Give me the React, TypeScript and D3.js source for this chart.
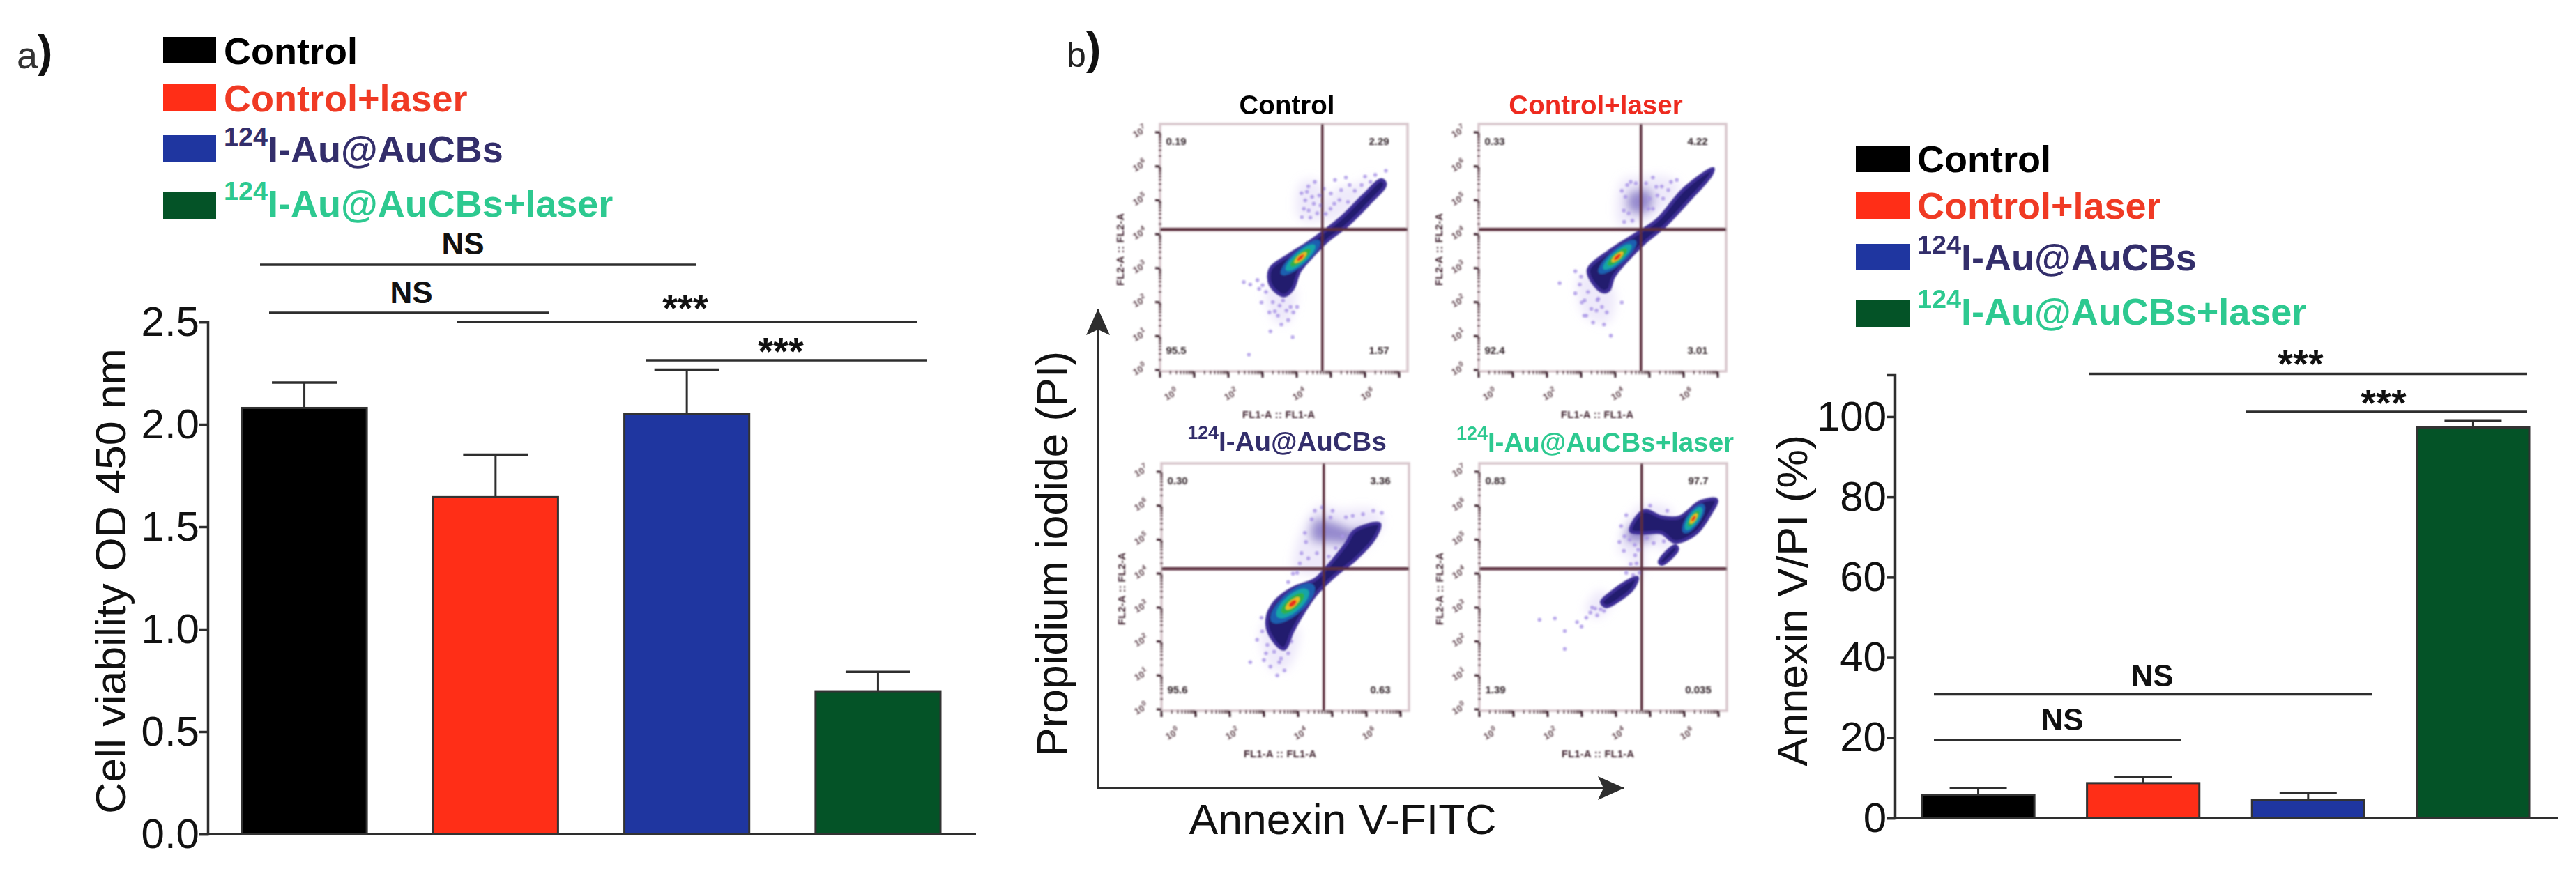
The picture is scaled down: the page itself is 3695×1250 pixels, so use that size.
import { useEffect, useRef } from "react";
import * as d3 from "d3";

type Pt = [number, number];

const groups = ["Control", "Control+laser", "124I-Au@AuCBs", "124I-Au@AuCBs+laser"];

// panel a
const viabilityMean = [2.08, 1.645, 2.05, 0.697];
const viabilityErr = [0.124, 0.207, 0.217, 0.095];
const viabilityTicks = [0, 0.5, 1, 1.5, 2, 2.5];

// panel b, right
const annexinMean = [5.8, 8.7, 4.6, 97.3];
const annexinErr = [1.7, 1.5, 1.6, 1.6];
const annexinTicks = [0, 20, 40, 60, 80, 100];

// flow plots, all positions in log10 decades
const quadrantPercents = [
  ["0.19", "2.29", "95.5", "1.57"],
  ["0.33", "4.22", "92.4", "3.01"],
  ["0.30", "3.36", "95.6", "0.63"],
  ["0.83", "97.7", "1.39", "0.035"],
];
const decadeTicks = [0, 1, 2, 3, 4, 5, 6, 7];
const xDecadeLabels = [0, 2, 4, 6];

const denseControl: Pt[][] = [
  [[3.62, 2.19], [3.23, 2.52], [3.23, 2.98], [3.75, 3.37], [4.27, 3.7], [4.73, 4.03], [5.31, 4.49], [5.96, 5.14], [6.48, 5.6], [6.59, 5.47], [6.09, 4.88], [5.44, 4.23], [4.92, 3.83], [4.53, 3.44], [4.08, 2.91], [3.88, 2.39]],
];
const denseLaser: Pt[][] = [
  [[3.61, 2.32], [3.26, 2.72], [3.22, 2.98], [3.93, 3.57], [4.65, 4.03], [5.23, 4.42], [6.02, 5.34], [6.86, 5.93], [6.8, 5.75], [6.15, 5.0], [5.45, 4.25], [4.85, 3.75], [4.4, 3.3], [3.95, 2.75], [3.8, 2.35]],
];
const denseAu: Pt[][] = [
  [[3.58, 1.78], [3.19, 2.18], [3.09, 2.64], [3.32, 3.16], [3.84, 3.56], [4.49, 3.82], [4.82, 4.15], [5.4, 4.87], [5.66, 5.26], [6.38, 5.46], [6.25, 5.07], [5.66, 4.41], [5.08, 3.95], [4.49, 3.36], [4.1, 2.77], [3.84, 2.31]],
];
const denseAuLaser: Pt[][] = [
  [[4.43, 5.26], [4.82, 5.85], [5.34, 5.66], [5.86, 5.66], [6.48, 6.12], [6.94, 6.17], [6.75, 5.75], [6.35, 5.2], [5.73, 4.93], [5.34, 5.2], [4.82, 5.2]],
  [[5.27, 4.34], [5.73, 4.82], [5.8, 4.72], [5.35, 4.28]],
  [[3.58, 3.16], [3.84, 3.42], [4.43, 3.82], [4.62, 3.88], [4.49, 3.56], [4.1, 3.23], [3.71, 3.03]],
];

const midControl: Pt[][] = [];
const midLaser: Pt[][] = [
  [[4.4, 4.7], [4.4, 5.2], [5.0, 5.3], [5.1, 4.9], [4.8, 4.6]],
];
const midAu: Pt[][] = [
  [[4.4, 5.0], [4.5, 5.6], [5.1, 5.5], [5.6, 5.3], [6.0, 5.4], [5.6, 4.9], [5.0, 4.9]],
];
const midAuLaser: Pt[][] = [
  [[4.3, 5.0], [4.4, 5.4], [5.0, 5.5], [5.0, 5.0]],
];

const hazeControl: Pt[][] = [
  [[4.05, 4.5], [4.1, 5.5], [4.5, 5.6], [4.75, 5.4], [4.7, 4.4]],
  [[4.8, 4.4], [5.1, 5.3], [5.8, 5.5], [6.2, 5.7], [5.6, 4.7]],
  [[3.1, 2.4], [3.4, 1.4], [3.75, 1.4], [3.95, 2.4]],
];
const hazeLaser: Pt[][] = [
  [[4.1, 4.3], [4.2, 5.6], [4.8, 5.7], [5.5, 5.7], [5.9, 5.4], [5.1, 4.5], [4.6, 4.3]],
  [[2.95, 2.8], [3.1, 1.6], [3.8, 1.4], [3.95, 2.4]],
];
const hazeAu: Pt[][] = [
  [[3.9, 4.1], [4.1, 5.3], [4.6, 6.0], [5.2, 5.9], [6.2, 5.9], [6.5, 5.5], [5.6, 4.4], [4.9, 4.0]],
  [[2.95, 2.5], [3.2, 1.2], [3.7, 1.2], [4.0, 2.4]],
];
const hazeAuLaser: Pt[][] = [
  [[4.1, 4.6], [4.2, 5.3], [4.7, 6.0], [5.6, 5.9], [5.6, 4.7], [4.9, 4.8], [4.75, 3.9], [4.45, 3.9], [4.4, 4.5]],
  [[3.1, 2.9], [3.5, 3.5], [3.9, 3.2], [3.5, 2.7]],
];

const hotControl = [[4.11, 3.31, 0.75, 0.22], [4.11, 3.31, 0.56, 0.17], [4.11, 3.31, 0.38, 0.12], [4.11, 3.31, 0.23, 0.08], [4.11, 3.31, 0.13, 0.05]];
const hotLaser = [[4.06, 3.33, 0.72, 0.22], [4.06, 3.33, 0.54, 0.16], [4.06, 3.33, 0.37, 0.12], [4.06, 3.33, 0.22, 0.08], [4.06, 3.33, 0.13, 0.05]];
const hotAu = [[3.84, 3.12, 0.82, 0.33], [3.84, 3.12, 0.6, 0.25], [3.84, 3.12, 0.42, 0.17], [3.84, 3.12, 0.26, 0.1], [3.84, 3.12, 0.13, 0.07]];
const hotAuLaser = [[6.27, 5.62, 0.51, 0.2], [6.27, 5.62, 0.4, 0.15], [6.27, 5.62, 0.27, 0.1], [6.27, 5.62, 0.18, 0.07], [6.27, 5.62, 0.09, 0.04]];

const sparseControl: Pt[] = [[4.14, 5.21], [4.34, 5.41], [4.53, 5.54], [4.66, 5.14], [4.21, 4.75], [4.4, 4.49], [4.6, 4.62], [4.79, 5.34], [5.12, 5.6], [5.44, 5.67], [5.7, 5.28], [5.25, 5.01], [4.99, 4.75], [5.83, 4.88], [6.16, 5.54], [6.61, 5.87], [2.45, 2.59], [2.64, 2.52], [2.9, 2.39], [2.97, 1.99], [3.36, 1.73], [3.55, 1.34], [3.75, 1.47], [3.23, 1.14], [3.88, 0.97], [2.6, 0.45], [4.01, 1.86], [3.82, 1.86],
  [4.25, 5.0], [4.45, 5.1], [4.15, 4.5], [4.5, 4.9], [4.35, 4.7], [4.7, 4.85], [4.3, 5.25], [5.0, 5.2], [5.3, 5.3], [5.5, 4.95], [5.55, 5.45], [5.9, 5.45], [6.0, 5.7], [6.3, 5.75], [5.1, 4.9], [4.85, 4.6], [3.1, 2.3], [3.3, 2.0], [3.5, 1.9], [3.6, 2.05], [3.45, 1.6], [3.7, 1.75], [3.9, 1.7], [3.2, 1.7], [3.0, 2.5], [2.85, 2.65]];
const sparseLaser: Pt[] = [[4.19, 5.28], [4.39, 4.62], [4.26, 4.36], [4.45, 5.54], [5.1, 5.67], [5.36, 5.41], [5.23, 5.14], [5.63, 5.54], [5.69, 4.88], [4.97, 4.75], [2.37, 2.56], [2.83, 2.91], [2.83, 2.26], [2.96, 2.52], [3.02, 1.99], [3.09, 1.6], [3.35, 1.4], [3.61, 1.86], [3.67, 1.34], [3.87, 1.01], [3.48, 2.06], [4.19, 1.99],
  [4.3, 5.1], [4.5, 4.4], [4.25, 4.7], [4.6, 5.5], [4.9, 5.5], [5.2, 5.4], [5.4, 5.05], [5.55, 5.3], [5.8, 5.6], [5.1, 4.75], [5.0, 5.05], [4.35, 5.45], [3.2, 2.3], [3.1, 2.05], [3.3, 1.8], [3.5, 2.1], [3.45, 1.75], [3.75, 1.7], [3.0, 2.75], [3.15, 1.6]];
const sparseAu: Pt[] = [[2.6, 1.39], [2.93, 2.7], [2.8, 2.05], [3.06, 1.65], [3.19, 1.26], [3.45, 1.39], [3.71, 1.65], [3.97, 2.64], [3.39, 1.0], [4.23, 4.93], [4.49, 5.85], [5.01, 5.85], [5.4, 5.66], [6.45, 5.79], [3.97, 4.02], [3.71, 3.75], [5.27, 4.41],
  [4.2, 5.2], [4.1, 4.6], [4.3, 4.45], [4.55, 4.6], [4.9, 4.5], [5.1, 4.75], [5.3, 5.1], [5.6, 5.7], [5.9, 5.75], [6.2, 5.85], [4.7, 5.95], [4.4, 5.6], [4.05, 4.3], [3.85, 4.0], [3.3, 1.7], [3.5, 1.5], [3.65, 1.9], [3.8, 2.0], [3.1, 1.9], [2.95, 2.3], [3.0, 1.45], [3.6, 1.15], [4.95, 5.65]];
const sparseAuLaser: Pt[] = [[1.76, 2.64], [2.21, 2.68], [2.5, 2.31], [2.5, 1.78], [2.86, 2.57], [3.13, 2.7], [2.99, 2.44], [3.39, 2.97], [3.45, 2.77], [4.3, 4.02], [4.43, 4.28], [4.23, 4.67], [4.1, 4.93], [4.56, 4.54], [4.69, 4.02], [4.3, 5.72],
  [4.25, 5.1], [4.15, 5.4], [4.4, 5.0], [4.55, 4.85], [4.65, 4.7], [4.6, 4.3], [4.5, 3.95], [3.25, 2.85], [3.3, 3.0], [3.55, 2.95], [4.9, 5.05], [5.1, 4.9], [5.4, 4.95], [5.0, 6.0], [5.5, 5.85], [3.65, 2.9]];

const barColors = ["#000000", "#ff2e17", "#1f36a0", "#045327"];
const textColors = ["#000000", "#f03a24", "#332e6b", "#2dc990"];
const hotColors = ["#1a5fb0", "#12a5a8", "#2fb04a", "#e8c020", "#e8301c"];
const FONT = "'Liberation Sans', Arial, sans-serif";
const INK = "#2e2e2e";

type Sel = d3.Selection<any, any, any, any>;

function groupLabel(g: Sel, name: string, x: number, y: number, size: number, fill: string, anchor = "start") {
  const t = g.append("text").attr("x", x).attr("y", y).attr("fill", fill).attr("font-family", FONT)
    .attr("font-weight", 700).attr("font-size", size).attr("text-anchor", anchor);
  if (name.startsWith("124")) {
    const lift = size * 0.44;
    t.append("tspan").attr("font-size", size * 0.7).attr("dy", -lift).text("124");
    t.append("tspan").attr("dy", lift).text(name.slice(3));
  } else {
    t.text(name);
  }
}

function sigLine(g: Sel, x0: number, x1: number, y: number, label: string, lx: number, ly: number) {
  g.append("line").attr("x1", x0).attr("x2", x1).attr("y1", y).attr("y2", y)
    .attr("stroke", INK).attr("stroke-width", 3.5);
  g.append("text").attr("x", lx).attr("y", ly).attr("text-anchor", "middle").attr("font-family", FONT)
    .attr("font-weight", 700).attr("font-size", label === "NS" ? 44 : 56).attr("fill", "#111").text(label);
}

function barChart(
  g: Sel,
  opts: {
    means: number[]; errs: number[]; ticks: number[]; domainMax: number; fmt: (d: number) => string;
    axisX: number; axisEnd: number; bandRange: [number, number]; padding: number; yRange: [number, number];
    capWidth: number; title: string; titleX: number; titleY: number; titleLen: number;
  }
) {
  const x = d3.scaleBand<string>().domain(groups).range(opts.bandRange).paddingInner(opts.padding).paddingOuter(0);
  const y = d3.scaleLinear().domain([0, opts.domainMax]).range(opts.yRange);

  const axis = g.append("g").attr("transform", `translate(${opts.axisX},0)`)
    .call(d3.axisLeft(y).tickValues(opts.ticks).tickSize(12).tickPadding(0).tickFormat(d => opts.fmt(Number(d))));
  axis.selectAll("path,line").attr("stroke", INK).attr("stroke-width", 3.5);
  axis.selectAll("text").attr("font-family", FONT).attr("font-size", 60).attr("fill", "#111");

  g.append("line").attr("x1", opts.axisX).attr("x2", opts.axisEnd).attr("y1", y(0)).attr("y2", y(0))
    .attr("stroke", INK).attr("stroke-width", 4);

  groups.forEach((name, i) => {
    const cx = x(name)! + x.bandwidth() / 2;
    const top = opts.means[i] + opts.errs[i];
    g.append("line").attr("x1", cx).attr("x2", cx).attr("y1", y(opts.means[i])).attr("y2", y(top))
      .attr("stroke", INK).attr("stroke-width", 3);
    g.append("line").attr("x1", cx - opts.capWidth / 2).attr("x2", cx + opts.capWidth / 2).attr("y1", y(top)).attr("y2", y(top))
      .attr("stroke", INK).attr("stroke-width", 3.5);
    g.append("rect").attr("x", x(name)!).attr("width", x.bandwidth()).attr("y", y(opts.means[i]))
      .attr("height", y(0) - y(opts.means[i])).attr("fill", barColors[i]).attr("stroke", "#333").attr("stroke-width", 3);
  });

  g.append("text").attr("transform", `translate(${opts.titleX},${opts.titleY}) rotate(-90)`)
    .attr("text-anchor", "middle").attr("font-family", FONT).attr("font-size", 61).attr("fill", "#111")
    .attr("textLength", opts.titleLen).attr("lengthAdjust", "spacingAndGlyphs").text(opts.title);
}

function legend(g: Sel, x: number, tx: number, w: number, boxes: number[], bases: number[]) {
  groups.forEach((name, i) => {
    g.append("rect").attr("x", x).attr("y", boxes[i]).attr("width", w).attr("height", 38).attr("fill", barColors[i]);
    groupLabel(g, name, tx, bases[i], 54, textColors[i]);
  });
}

function flowPlot(
  g: Sel,
  left: number,
  top: number,
  percents: string[],
  haze: Pt[][],
  mid: Pt[][],
  dense: Pt[][],
  hot: number[][],
  sparse: Pt[],
  hotAngle: number
) {
  const size = 355;
  const x = d3.scaleLog().domain([1, 1e7]).range([left, left + 343]);
  const y = d3.scaleLog().domain([1, 1e7]).range([top + 353, top + 12]);
  const px = (d: number) => x(10 ** d);
  const py = (d: number) => y(10 ** d);
  const blob = d3.line<Pt>().x(d => px(d[0])).y(d => py(d[1])).curve(d3.curveCatmullRomClosed.alpha(0.5));

  const mist = g.append("g").attr("filter", "url(#mist)");
  haze.forEach(s => mist.append("path").attr("d", blob(s)).attr("fill", "#d6cbf4").attr("opacity", 0.42));
  mid.forEach(s => mist.append("path").attr("d", blob(s)).attr("fill", "#5a49b0").attr("opacity", 0.6));

  const p = g.append("g").attr("filter", "url(#soft)");
  p.append("rect").attr("x", left).attr("y", top).attr("width", size).attr("height", size)
    .attr("fill", "none").attr("stroke", "#d8c6cc").attr("stroke-width", 3.5);

  sparse.forEach(d => p.append("circle").attr("cx", px(d[0])).attr("cy", py(d[1])).attr("r", 2.8).attr("fill", "#a995e6").attr("opacity", 0.8));
  dense.forEach(s => p.append("path").attr("d", blob(s)).attr("fill", "#241c6e").attr("stroke", "#3c2f96").attr("stroke-width", 5).attr("stroke-linejoin", "round"));
  hot.forEach((h, i) => {
    p.append("ellipse").attr("rx", h[2] * 49).attr("ry", h[3] * 49)
      .attr("transform", `translate(${px(h[0])},${py(h[1])}) rotate(${hotAngle})`).attr("fill", hotColors[i]);
  });

  // quadrant gates
  p.append("line").attr("x1", px(4.75)).attr("x2", px(4.75)).attr("y1", top).attr("y2", top + size).attr("stroke", "#5a2f3d").attr("stroke-width", 3.5);
  p.append("line").attr("x1", left).attr("x2", left + size).attr("y1", py(4.14)).attr("y2", py(4.14)).attr("stroke", "#5a2f3d").attr("stroke-width", 4.5);

  // log axes with minor ticks
  const minor = d3.range(0, 7).flatMap(e => d3.range(2, 10).map(m => m * 10 ** e));
  minor.forEach(v => {
    p.append("line").attr("x1", left - 2).attr("x2", left + 2).attr("y1", y(v)).attr("y2", y(v)).attr("stroke", "#4a2a35").attr("stroke-width", 1.8);
    p.append("line").attr("y1", top + size - 1).attr("y2", top + size + 4).attr("x1", x(v)).attr("x2", x(v)).attr("stroke", "#4a2a35").attr("stroke-width", 1.8);
  });
  decadeTicks.forEach(e => {
    p.append("line").attr("x1", left - 7).attr("x2", left).attr("y1", py(e)).attr("y2", py(e)).attr("stroke", "#3a1f29").attr("stroke-width", 3);
    p.append("line").attr("y1", top + size).attr("y2", top + size + 9).attr("x1", px(e)).attr("x2", px(e)).attr("stroke", "#3a1f29").attr("stroke-width", 3);
    const t = p.append("text").attr("transform", `translate(${left - 27},${py(e) + 3}) rotate(-30)`)
      .attr("font-family", FONT).attr("font-size", 13).attr("font-weight", 700).attr("text-anchor", "middle").attr("fill", "#5c3f49");
    t.append("tspan").text("10");
    t.append("tspan").attr("dy", -6).attr("font-size", 10).text(String(e));
  });
  xDecadeLabels.forEach(e => {
    const lx = e === 0 ? left + 18 : px(e) + 6;
    const t = p.append("text").attr("transform", `translate(${lx},${top + size + 37}) rotate(-30)`)
      .attr("font-family", FONT).attr("font-size", 13).attr("font-weight", 700).attr("text-anchor", "middle").attr("fill", "#5c3f49");
    t.append("tspan").text("10");
    t.append("tspan").attr("dy", -6).attr("font-size", 10).text(String(e));
  });

  p.append("text").attr("transform", `translate(${left - 52},${top + 180}) rotate(-90)`).attr("text-anchor", "middle")
    .attr("font-family", FONT).attr("font-weight", 700).attr("font-size", 14.5).attr("textLength", 104).attr("fill", "#3a1f29").text("FL2-A :: FL2-A");
  p.append("text").attr("x", left + 170).attr("y", top + size + 67).attr("text-anchor", "middle")
    .attr("font-family", FONT).attr("font-weight", 700).attr("font-size", 14.5).attr("textLength", 104).attr("fill", "#3a1f29").text("FL1-A :: FL1-A");

  const spots: Pt[] = [[left + 23, top + 30], [left + 314, top + 30], [left + 23, top + 330], [left + 314, top + 330]];
  percents.forEach((s, i) => {
    p.append("text").attr("x", spots[i][0]).attr("y", spots[i][1]).attr("text-anchor", "middle").attr("font-family", FONT)
      .attr("font-weight", 700).attr("font-size", 15).attr("fill", "#2e2026").text(s);
  });
}

function arrow(g: Sel, x1: number, y1: number, x2: number, y2: number) {
  const a = (Math.atan2(y2 - y1, x2 - x1) * 180) / Math.PI;
  g.append("line").attr("x1", x1).attr("y1", y1).attr("x2", x2).attr("y2", y2).attr("stroke", INK).attr("stroke-width", 4);
  g.append("path").attr("d", "M0,0L-38,-17L-30,0L-38,17Z").attr("fill", INK).attr("transform", `translate(${x2},${y2}) rotate(${a})`);
}

export default function App() {
  const svgRef = useRef<SVGSVGElement | null>(null);

  useEffect(() => {
    if (!svgRef.current) return;
    const svg = d3.select(svgRef.current);
    svg.selectAll("*").remove();
    svg.append("rect").attr("width", 3695).attr("height", 1250).attr("fill", "#fff");
    const defs = svg.append("defs");
    defs.append("filter").attr("id", "soft").attr("x", "-10%").attr("y", "-10%").attr("width", "120%").attr("height", "120%")
      .append("feGaussianBlur").attr("stdDeviation", 1.2);
    defs.append("filter").attr("id", "mist").attr("x", "-20%").attr("y", "-20%").attr("width", "140%").attr("height", "140%")
      .append("feGaussianBlur").attr("stdDeviation", 7);

    // panel a
    const a = svg.append("g");
    a.append("text").attr("x", 24).attr("y", 98).attr("font-family", FONT).attr("font-size", 54).attr("fill", "#333").text("a");
    a.append("text").attr("x", 54).attr("y", 96).attr("font-family", FONT).attr("font-size", 64).attr("font-weight", 700).attr("fill", "#111").text(")");
    legend(a, 234, 321, 76, [53, 121, 194, 276], [92, 160, 233, 311]);
    barChart(a, {
      means: viabilityMean, errs: viabilityErr, ticks: viabilityTicks, domainMax: 2.5, fmt: d3.format(".1f"),
      axisX: 298, axisEnd: 1400, bandRange: [347, 1349], padding: 0.347, yRange: [1197, 462],
      capWidth: 93, title: "Cell viability OD 450 nm", titleX: 180, titleY: 834, titleLen: 668,
    });
    sigLine(a, 373, 999, 380, "NS", 664, 365);
    sigLine(a, 386, 787, 449, "NS", 590, 435);
    sigLine(a, 656, 1316, 462, "***", 983, 461);
    sigLine(a, 927, 1330, 517, "***", 1120, 523);

    // panel b, flow plots
    const b = svg.append("g");
    b.append("text").attr("x", 1530).attr("y", 96).attr("font-family", FONT).attr("font-size", 50).attr("fill", "#222").text("b");
    b.append("text").attr("x", 1558).attr("y", 92).attr("font-family", FONT).attr("font-size", 64).attr("font-weight", 700).attr("fill", "#111").text(")");

    flowPlot(b, 1664, 178, quadrantPercents[0], hazeControl, midControl, denseControl, hotControl, sparseControl, -41);
    flowPlot(b, 2121, 178, quadrantPercents[1], hazeLaser, midLaser, denseLaser, hotLaser, sparseLaser, -41);
    flowPlot(b, 1666, 665, quadrantPercents[2], hazeAu, midAu, denseAu, hotAu, sparseAu, -41);
    flowPlot(b, 2122, 665, quadrantPercents[3], hazeAuLaser, midAuLaser, denseAuLaser, hotAuLaser, sparseAuLaser, -55);

    groupLabel(b, groups[0], 1846, 164, 38.5, "#000", "middle");
    groupLabel(b, groups[1], 2289, 164, 38.5, "#ee2a1f", "middle");
    groupLabel(b, groups[2], 1846, 647, 38.5, textColors[2], "middle");
    groupLabel(b, groups[3], 2288, 648, 38.5, textColors[3], "middle");

    arrow(b, 1575, 1133, 1575, 443);
    arrow(b, 1573, 1131, 2330, 1131);
    b.append("text").attr("transform", "translate(1531,795) rotate(-90)").attr("text-anchor", "middle")
      .attr("font-family", FONT).attr("font-size", 63).attr("fill", "#111")
      .attr("textLength", 582).attr("lengthAdjust", "spacingAndGlyphs").text("Propidium iodide (PI)");
    b.append("text").attr("x", 1926).attr("y", 1197).attr("text-anchor", "middle")
      .attr("font-family", FONT).attr("font-size", 62).attr("fill", "#111")
      .attr("textLength", 441).attr("lengthAdjust", "spacingAndGlyphs").text("Annexin V-FITC");

    // panel b, bars
    const c = svg.append("g");
    legend(c, 2662, 2750, 77, [209, 276, 350, 431], [247, 314, 388, 466]);
    barChart(c, {
      means: annexinMean, errs: annexinErr, ticks: annexinTicks, domainMax: 110.4, fmt: d3.format("d"),
      axisX: 2718, axisEnd: 3669, bandRange: [2757, 3628], padding: 0.319, yRange: [1174, 538],
      capWidth: 82, title: "Annexin V/PI (%)", titleX: 2592, titleY: 862, titleLen: 476,
    });
    sigLine(c, 2996, 3625, 536.5, "***", 3300, 541);
    sigLine(c, 3222, 3625, 591, "***", 3419, 597);
    sigLine(c, 2774, 3402, 996.5, "NS", 3087, 985);
    sigLine(c, 2774, 3129, 1062, "NS", 2958, 1048);
  }, []);

  return <svg ref={svgRef} width={3695} height={1250} style={{ position: "absolute", left: 0, top: 0 }} />;
}
